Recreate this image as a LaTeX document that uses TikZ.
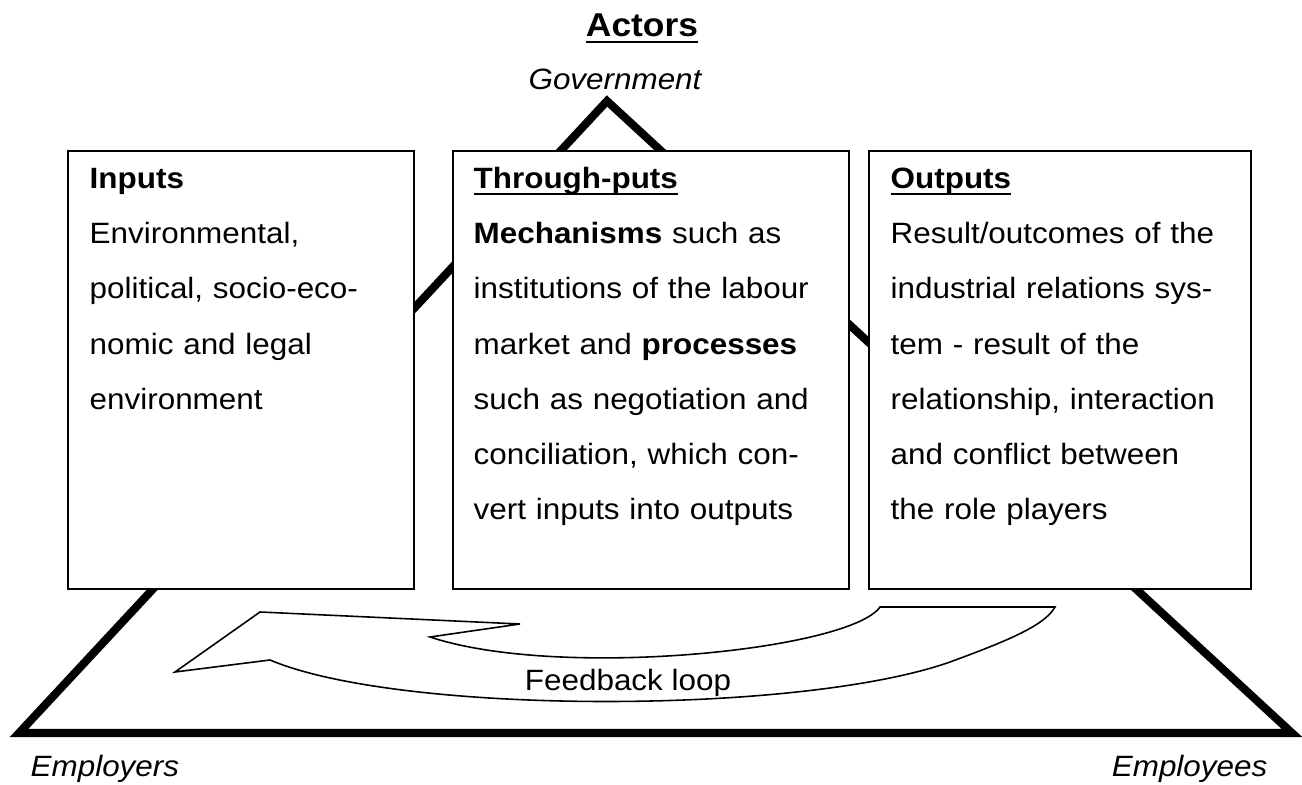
\documentclass[tikz,border=0pt]{standalone}
\usepackage{fontspec}
\setmainfont{Liberation Sans}[FakeStretch=1.07]
\usetikzlibrary{positioning}
\newcommand{\ulbf}[1]{\underline{\smash{\textbf{#1}}}\vphantom{\textbf{I}}}
\begin{document}
\begin{tikzpicture}[x=0.01cm,y=-0.01cm,line join=miter,font=\fontsize{8.35}{15.65}\selectfont,
	box/.style={draw,line width=0.6pt,fill=white,anchor=north west,minimum height=4.38cm,inner sep=0pt},
	boxtext/.style={align=left,inner sep=0pt},
	actor/.style={font=\fontsize{8.35}{10}\selectfont\itshape,inner sep=0pt},
	fbarrow/.style={draw,line width=0.45pt,fill=white}]
	\useasboundingbox (0,0) rectangle (1302,785);
	\node[font=\fontsize{9.4}{11}\selectfont,inner sep=0pt,anchor=base] (actors) at (642,37) {\ulbf{Actors}};
	\coordinate (gov) at (607,101);
	\coordinate (empl) at (19,733);
	\coordinate (empe) at (1292,733);
	\draw[line width=2.3pt] (gov) -- (empl) -- (empe) -- cycle;
	\node[actor,anchor=base] (govlbl) at (615,90) {Government};
	\node[actor,anchor=base west] (empllbl) at (30,777) {Employers};
	\node[actor,anchor=base east] (empelbl) at (1268,777) {Employees};
	\foreach \n/\x/\w in {inputs/67/3.46,through/452/3.96,outputs/868/3.82}{
		\node[box,minimum width=\w cm] (\n) at (\x,150) {};
	}
	\node[boxtext,text width=3.1cm,below right=0.18cm and 0.22cm of inputs.north west] (inputstxt) {%
		\textbf{Inputs}\\
		Environmental,\\
		political, socio-eco-\\
		nomic and legal\\
		environment};
	\node[boxtext,text width=3.6cm,below right=0.18cm and 0.21cm of through.north west] (throughtxt) {%
		\ulbf{Through-puts}\\
		\textbf{Mechanisms} such as\\
		institutions of the labour\\
		market and \textbf{processes}\\
		such as negotiation and\\
		conciliation, which con-\\
		vert inputs into outputs};
	\node[boxtext,text width=3.5cm,below right=0.18cm and 0.22cm of outputs.north west] (outputstxt) {%
		\ulbf{Outputs}\\
		Result/outcomes of the\\
		industrial relations sys-\\
		tem - result of the\\
		relationship, interaction\\
		and conflict between\\
		the role players};
	% feedback loop
	\draw[fbarrow] (175,672) -- (270,660) .. controls (400,715) and (800,715) .. (950,662)
		.. controls (1010,640) and (1045,625) .. (1055,607) -- (880,607)
		.. controls (850,650) and (560,680) .. (430,637) -- (520,624) -- (260,612) -- cycle;
	\node[inner sep=0pt,anchor=base] (fblbl) at (628,691) {Feedback loop};
\end{tikzpicture}
\end{document}
